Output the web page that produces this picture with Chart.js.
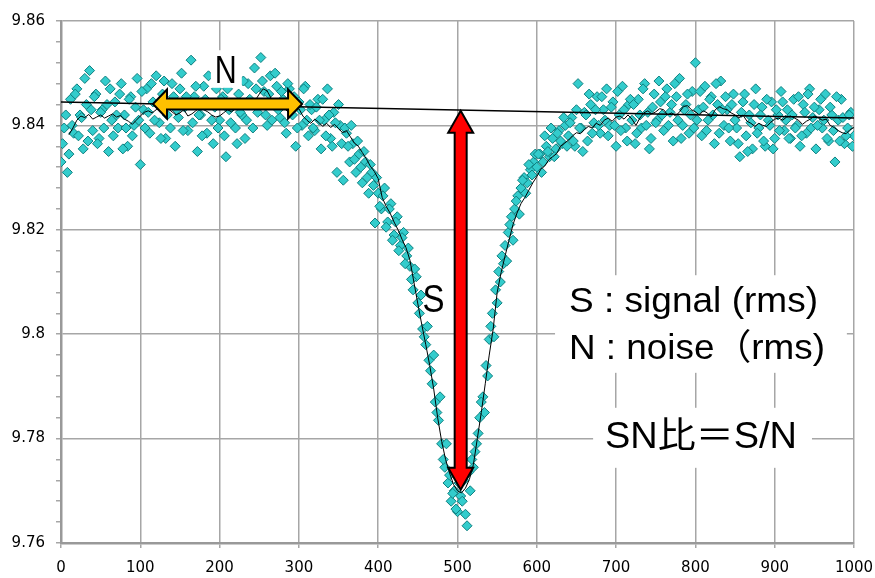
<!DOCTYPE html>
<html>
<head>
<meta charset="utf-8">
<script src="https://cdn.jsdelivr.net/npm/chart.js@4.4.1/dist/chart.umd.min.js"></script>
<style>
  html, body { margin: 0; padding: 0; background: #fff; }
  #wrap { width: 875px; height: 578px; }
</style>
</head>
<body>
<div id="wrap"><canvas id="snChart" width="875" height="578"></canvas></div>
<script>
// measured points, one every 4 units along x (0..1000)
const sampleStep = 4;
const samples = [
  9.8330, 9.8395, 9.8310, 9.8450, 9.8385, 9.8470, 9.8420, 9.8355, 9.8440, 9.8505,
  9.8390, 9.8460, 9.8375, 9.8430, 9.8485, 9.8350, 9.8410, 9.8445, 9.8395, 9.8480,
  9.8420, 9.8360, 9.8455, 9.8400, 9.8490, 9.8325, 9.8430, 9.8470, 9.8385, 9.8445,
  9.8495, 9.8405, 9.8460, 9.8375, 9.8440, 9.8480, 9.8360, 9.8415, 9.8500, 9.8435,
  9.8390, 9.8525, 9.8455, 9.8350, 9.8420, 9.8475, 9.8385, 9.8440, 9.8365, 9.8470,
  9.8410, 9.8455, 9.8340, 9.8430, 9.8490, 9.8395, 9.8460, 9.8420, 9.8375, 9.8480,
  9.8445, 9.8510, 9.8425, 9.8530, 9.8465, 9.8400, 9.8495, 9.8440, 9.8475, 9.8415,
  9.8450, 9.8385, 9.8470, 9.8420, 9.8360, 9.8445, 9.8400, 9.8475, 9.8380, 9.8430,
  9.8390, 9.8450, 9.8355, 9.8410, 9.8470, 9.8375, 9.8425, 9.8310, 9.8400, 9.8295,
  9.8385, 9.8330, 9.8365, 9.8310, 9.8345, 9.8290, 9.8330, 9.8270, 9.8310, 9.8213,
  9.8270, 9.8240, 9.8280, 9.8215, 9.8250, 9.8190, 9.8225, 9.8170, 9.8195, 9.8150,
  9.8130, 9.8085, 9.8110, 9.8040, 9.8010, 9.7980, 9.7950, 9.7905, 9.7870, 9.7835,
  9.7790, 9.7745, 9.7715, 9.7680, 9.7700, 9.7660, 9.7690, 9.7720, 9.7633, 9.7700,
  9.7745, 9.7790, 9.7840, 9.7880, 9.7940, 9.7990, 9.8040, 9.8085, 9.8120, 9.8150,
  9.8170, 9.8195, 9.8225, 9.8240, 9.8265, 9.8280, 9.8300, 9.8290, 9.8315, 9.8330,
  9.8320, 9.8345, 9.8330, 9.8360, 9.8340, 9.8375, 9.8355, 9.8390, 9.8365, 9.8400,
  9.8380, 9.8415, 9.8360, 9.8480, 9.8395, 9.8425, 9.8370, 9.8440, 9.8405, 9.8455,
  9.8385, 9.8430, 9.8470, 9.8400, 9.8445, 9.8360, 9.8420, 9.8475, 9.8395, 9.8440,
  9.8410, 9.8365, 9.8450, 9.8395, 9.8480, 9.8425, 9.8375, 9.8460, 9.8410, 9.8445,
  9.8390, 9.8470, 9.8425, 9.8370, 9.8455, 9.8490, 9.8400, 9.8440, 9.8385, 9.8465,
  9.8520, 9.8430, 9.8380, 9.8475, 9.8410, 9.8455, 9.8365, 9.8440, 9.8485, 9.8400,
  9.8430, 9.8370, 9.8460, 9.8395, 9.8340, 9.8445, 9.8380, 9.8420, 9.8355, 9.8470,
  9.8395, 9.8435, 9.8360, 9.8410, 9.8445, 9.8375, 9.8420, 9.8465, 9.8390, 9.8430,
  9.8375, 9.8450, 9.8400, 9.8360, 9.8440, 9.8385, 9.8470, 9.8415, 9.8355, 9.8430,
  9.8395, 9.8460, 9.8370, 9.8420, 9.8330, 9.8410, 9.8450, 9.8365, 9.8395, 9.8425,
  9.8380
];

// in-between points, x = 2, 6, 10 ... 998
const samplesB = [
  9.8365, 9.8420, 9.8345, 9.8400, 9.8460, 9.8380, 9.8415, 9.8490, 9.8370, 9.8430,
  9.8455, 9.8365, 9.8425, 9.8395, 9.8440, 9.8470, 9.8380, 9.8420, 9.8460, 9.8355,
  9.8395, 9.8450, 9.8380, 9.8435, 9.8410, 9.8465, 9.8395, 9.8425, 9.8480, 9.8410,
  9.8440, 9.8375, 9.8485, 9.8420, 9.8395, 9.8455, 9.8430, 9.8470, 9.8390, 9.8455,
  9.8440, 9.8405, 9.8475, 9.8420, 9.8380, 9.8450, 9.8495, 9.8410, 9.8435, 9.8395,
  9.8450, 9.8380, 9.8470, 9.8405, 9.8440, 9.8365, 9.8425, 9.8485, 9.8410, 9.8450,
  9.8395, 9.8470, 9.8440, 9.8485, 9.8420, 9.8460, 9.8410, 9.8500, 9.8430, 9.8465,
  9.8405, 9.8480, 9.8430, 9.8455, 9.8395, 9.8430, 9.8470, 9.8410, 9.8440, 9.8395,
  9.8435, 9.8410, 9.8450, 9.8380, 9.8420, 9.8360, 9.8405, 9.8440, 9.8365, 9.8395,
  9.8360, 9.8400, 9.8335, 9.8370, 9.8320, 9.8350, 9.8300, 9.8325, 9.8285, 9.8300,
  9.8245, 9.8265, 9.8205, 9.8240, 9.8180, 9.8215, 9.8160, 9.8185, 9.8135, 9.8165,
  9.8105, 9.8125, 9.8060, 9.8075, 9.7995, 9.8015, 9.7930, 9.7960, 9.7850, 9.7880,
  9.7760, 9.7790, 9.7730, 9.7695, 9.7665, 9.7715, 9.7680, 9.7655, 9.7735, 9.7760,
  9.7775, 9.7810, 9.7870, 9.7850, 9.7920, 9.8015, 9.7995, 9.8060, 9.8100, 9.8135,
  9.8140, 9.8210, 9.8180, 9.8255, 9.8230, 9.8295, 9.8270, 9.8325, 9.8305, 9.8345,
  9.8345, 9.8310, 9.8380, 9.8350, 9.8395, 9.8340, 9.8385, 9.8370, 9.8415, 9.8360,
  9.8405, 9.8370, 9.8430, 9.8395, 9.8350, 9.8420, 9.8460, 9.8385, 9.8430, 9.8400,
  9.8455, 9.8410, 9.8380, 9.8435, 9.8400, 9.8465, 9.8390, 9.8430, 9.8370, 9.8450,
  9.8440, 9.8385, 9.8420, 9.8470, 9.8400, 9.8355, 9.8435, 9.8405, 9.8485, 9.8420,
  9.8455, 9.8400, 9.8440, 9.8480, 9.8410, 9.8375, 9.8430, 9.8460, 9.8420, 9.8395,
  9.8410, 9.8465, 9.8435, 9.8390, 9.8450, 9.8420, 9.8480, 9.8385, 9.8430, 9.8455,
  9.8395, 9.8440, 9.8410, 9.8365, 9.8425, 9.8460, 9.8350, 9.8405, 9.8440, 9.8385,
  9.8420, 9.8370, 9.8450, 9.8400, 9.8355, 9.8430, 9.8390, 9.8445, 9.8410, 9.8375,
  9.8420, 9.8395, 9.8455, 9.8380, 9.8425, 9.8460, 9.8395, 9.8435, 9.8400, 9.8450,
  9.8410, 9.8375, 9.8435, 9.8390, 9.8455, 9.8370, 9.8415, 9.8380, 9.8420, 9.8360
];

// moving average, one every 5 units starting at x = 10
const avgStart = 10;
const avgStep = 5;
const movingAvg = [
  9.8382, 9.8395, 9.8410, 9.8418, 9.8415, 9.8421, 9.8412, 9.8416, 9.8420, 9.8414,
  9.8418, 9.8422, 9.8416, 9.8419, 9.8412, 9.8408, 9.8402, 9.8410, 9.8418, 9.8425,
  9.8428, 9.8424, 9.8430, 9.8434, 9.8428, 9.8432, 9.8426, 9.8420, 9.8424, 9.8430,
  9.8418, 9.8422, 9.8428, 9.8434, 9.8430, 9.8426, 9.8420, 9.8416, 9.8418, 9.8424,
  9.8430, 9.8426, 9.8432, 9.8436, 9.8440, 9.8436, 9.8442, 9.8448, 9.8460, 9.8470,
  9.8466, 9.8452, 9.8446, 9.8440, 9.8434, 9.8428, 9.8420, 9.8426, 9.8432, 9.8418,
  9.8410, 9.8404, 9.8412, 9.8406, 9.8398, 9.8404, 9.8396, 9.8402, 9.8394, 9.8386,
  9.8390, 9.8378, 9.8366, 9.8360, 9.8348, 9.8336, 9.8322, 9.8312, 9.8298, 9.8262,
  9.8245, 9.8232, 9.8215, 9.8200, 9.8182, 9.8166, 9.8142, 9.8100, 9.8058, 9.8018,
  9.7980, 9.7940, 9.7895, 9.7840, 9.7795, 9.7760, 9.7734, 9.7712, 9.7700, 9.7696,
  9.7705, 9.7722, 9.7750, 9.7800, 9.7850, 9.7905, 9.7960, 9.8010, 9.8080, 9.8118,
  9.8150, 9.8180, 9.8210, 9.8232, 9.8250, 9.8262, 9.8276, 9.8290, 9.8302, 9.8316,
  9.8322, 9.8334, 9.8340, 9.8346, 9.8360, 9.8366, 9.8372, 9.8380, 9.8386, 9.8384,
  9.8392, 9.8398, 9.8395, 9.8404, 9.8400, 9.8410, 9.8414, 9.8408, 9.8416, 9.8418,
  9.8412, 9.8420, 9.8412, 9.8400, 9.8414, 9.8424, 9.8428, 9.8422, 9.8426, 9.8432,
  9.8430, 9.8420, 9.8424, 9.8418, 9.8426, 9.8436, 9.8438, 9.8430, 9.8426, 9.8420,
  9.8428, 9.8424, 9.8416, 9.8430, 9.8436, 9.8432, 9.8430, 9.8424, 9.8420, 9.8414,
  9.8420, 9.8408, 9.8404, 9.8398, 9.8404, 9.8400, 9.8398, 9.8406, 9.8412, 9.8414,
  9.8410, 9.8416, 9.8418, 9.8414, 9.8410, 9.8402, 9.8408, 9.8412, 9.8418, 9.8414,
  9.8410, 9.8412, 9.8400, 9.8396, 9.8390, 9.8386, 9.8384, 9.8392, 9.8396
];

// straight baseline drawn across the plot
const baseX = [0, 1000];
const baseY = [9.8445, 9.8414];

const xTicks = [0, 100, 200, 300, 400, 500, 600, 700, 800, 900, 1000];
const yMin = 9.76, yMax = 9.86, yMajor = 0.02, yMinor = 0.004;

const pts = samples.map((v, i) => ({ x: i * sampleStep, y: v }))
  .concat(samplesB.map((v, i) => ({ x: 2 + i * sampleStep, y: v })));
const avgPts = movingAvg.map((v, i) => ({ x: avgStart + i * avgStep, y: v }));
const basePts = baseX.map((x, i) => ({ x: x, y: baseY[i] }));

const isMajor = v => Math.abs(Math.round(v / yMajor) * yMajor - v) < 1e-6;
const gridGrey = '#a6a6a6';

// annotations (data coordinates)
const notes = {
  boxes: [
    { x1: 623, x2: 991, y1: 9.8113, y2: 9.7926 },
    { x1: 671, x2: 947, y1: 9.7859, y2: 9.7744 },
    { x1: 189, x2: 228, y1: 9.8544, y2: 9.8472 }
  ],
  texts: [
    { t: 'N', x: 194, y: 9.8481, size: 34, w: 22 },
    { t: 'S', x: 456, y: 9.8043, size: 33, w: 22 },
    { t: 'S : signal (rms)', x: 640.6, y: 9.8043, size: 31, w: 249 },
    { t: 'N : noise（rms)', x: 640.6, y: 9.7952, size: 31, w: 256 },
    { t: 'SN比＝S/N', x: 686, y: 9.7782, size: 32, w: 192 }
  ],
  arrows: [
    { x1: 116, y1: 9.8441, x2: 304, y2: 9.8441, shaft: 11, head: 29, len: 14, fill: '#FFC000' },
    { x1: 504, y1: 9.8428, x2: 504, y2: 9.7702, shaft: 12, head: 25, len: 22, fill: '#FF0000' }
  ]
};

function drawArrow(ctx, x1, y1, x2, y2, a) {
  const len = Math.hypot(x2 - x1, y2 - y1);
  const s = a.shaft / 2, h = a.head / 2, hl = a.len;
  ctx.save();
  ctx.translate(x1, y1);
  ctx.rotate(Math.atan2(y2 - y1, x2 - x1));
  ctx.beginPath();
  ctx.moveTo(0, 0);
  ctx.lineTo(hl, -h);
  ctx.lineTo(hl, -s);
  ctx.lineTo(len - hl, -s);
  ctx.lineTo(len - hl, -h);
  ctx.lineTo(len, 0);
  ctx.lineTo(len - hl, h);
  ctx.lineTo(len - hl, s);
  ctx.lineTo(hl, s);
  ctx.lineTo(hl, h);
  ctx.closePath();
  ctx.fillStyle = a.fill;
  ctx.fill();
  ctx.lineWidth = 2;
  ctx.strokeStyle = '#000';
  ctx.stroke();
  ctx.restore();
}

const notesPlugin = {
  id: 'notes',
  afterDatasetsDraw(chart) {
    const ctx = chart.ctx;
    const xs = chart.scales.x, ys = chart.scales.y;
    ctx.save();
    ctx.fillStyle = '#fff';
    notes.boxes.forEach(b => {
      const l = xs.getPixelForValue(b.x1), r = xs.getPixelForValue(b.x2);
      const t = ys.getPixelForValue(b.y1), btm = ys.getPixelForValue(b.y2);
      ctx.fillRect(l, t, r - l, btm - t);
    });
    ctx.fillStyle = '#000';
    ctx.textBaseline = 'alphabetic';
    ctx.textAlign = 'left';
    notes.texts.forEach(n => {
      ctx.font = n.size + 'px "Liberation Sans", "Noto Sans CJK JP", sans-serif';
      const sx = n.w / ctx.measureText(n.t).width;
      ctx.save();
      ctx.translate(xs.getPixelForValue(n.x), ys.getPixelForValue(n.y));
      ctx.scale(sx, 1.15);
      ctx.fillText(n.t, 0, 0);
      ctx.restore();
    });
    notes.arrows.forEach(a => {
      drawArrow(ctx, xs.getPixelForValue(a.x1), ys.getPixelForValue(a.y1),
        xs.getPixelForValue(a.x2), ys.getPixelForValue(a.y2), a);
    });
    ctx.restore();
  }
};

new Chart(document.getElementById('snChart').getContext('2d'), {
  type: 'scatter',
  data: {
    datasets: [
      {
        type: 'line',
        data: basePts,
        borderColor: '#000',
        borderWidth: 1.5,
        pointRadius: 0,
        fill: false
      },
      {
        type: 'line',
        data: avgPts,
        borderColor: '#000',
        borderWidth: 1,
        pointRadius: 0,
        tension: 0,
        fill: false
      },
      {
        data: pts,
        pointStyle: 'rectRot',
        pointRadius: 5,
        pointBackgroundColor: '#33CCCC',
        pointBorderColor: '#0E7F7F',
        pointBorderWidth: 1
      }
    ]
  },
  options: {
    responsive: false,
    animation: false,
    devicePixelRatio: 1,
    layout: { padding: { top: 21, right: 21, left: 0, bottom: 0 } },
    plugins: { legend: { display: false }, tooltip: { enabled: false } },
    scales: {
      x: {
        type: 'linear',
        min: 0,
        max: 1000,
        afterFit: s => { s.height = 35; s.paddingLeft = 0; s.paddingRight = 0; },
        afterBuildTicks: s => { s.ticks = xTicks.map(v => ({ value: v })); },
        ticks: {
          color: '#000',
          padding: 11,
          maxRotation: 0,
          autoSkip: false,
          font: { family: 'DejaVu Sans', size: 15 },
          callback: v => String(v)
        },
        grid: { color: gridGrey, lineWidth: 1.5, tickLength: 5, tickColor: gridGrey },
        border: { color: '#999', width: 2.5 }
      },
      y: {
        min: yMin,
        max: yMax,
        afterFit: s => { s.width = 61; s.paddingTop = 0; s.paddingBottom = 0; },
        ticks: {
          stepSize: yMinor,
          autoSkip: false,
          color: '#000',
          padding: 11,
          font: { family: 'DejaVu Sans', size: 15 },
          callback: v => isMajor(v) ? String(+v.toFixed(2)) : ''
        },
        grid: {
          color: c => isMajor(c.tick.value) ? gridGrey : 'rgba(0,0,0,0)',
          lineWidth: 1.5,
          tickLength: 5,
          tickColor: gridGrey
        },
        border: { color: '#999', width: 2.5 }
      }
    }
  },
  plugins: [notesPlugin]
});
</script>
</body>
</html>
